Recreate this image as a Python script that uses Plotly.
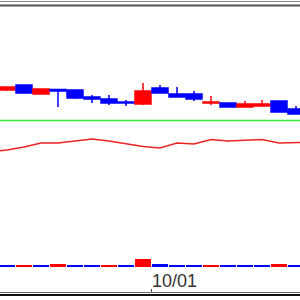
import plotly.graph_objects as go

# ---- data ----
candle_idx = list(range(18))
opens  = [1010, 1015, 1006, 1010.5, 1010, 1003, 1001, 998, 996, 1012, 1006, 1006, 997, 997, 993, 994, 999, 991]
highs  = [1013, 1015, 1011, 1011,   1010, 1005, 1005, 1000, 1017, 1015, 1013, 1009, 1004, 997, 999, 1000, 999, 994]
lows   = [1009, 1006, 1006, 993,    1001, 997,  995,  994,  995,  1007, 1003, 999,  995,  993, 993, 993,  988, 986]
closes = [1013, 1007, 1011, 1009,   1002, 1001, 997,  997,  1009, 1007, 1003, 1001, 998,  993, 996, 996,  988, 986]

line_idx = list(range(-1, 19))
line_vals = [948, 950, 953, 957, 957, 959, 961, 959, 956, 953.5, 952, 957, 956, 960.5, 959, 959.5, 960.5, 957, 957.5, 958]

green_level = 979.5

volumes = [1.7, 1.7, 1.7, 3.2, 1.7, 1.7, 1.7, 1.7, 8.2, 3.0, 1.7, 1.7, 1.7, 1.7, 1.7, 1.7, 3.2, 1.7]
vol_colors = ["blue", "red", "blue", "red", "blue", "blue", "red", "blue", "red",
              "blue", "blue", "blue", "red", "blue", "blue", "blue", "red", "blue"]

date_label = "10/01"
date_pos = 8.5

RED = "#ff0000"
BLUE = "#0000ff"

fig = go.Figure()

fig.add_trace(go.Bar(
    x=candle_idx, y=volumes, width=0.9,
    marker=dict(color=[RED if c == "red" else BLUE for c in vol_colors], line=dict(width=0)),
    yaxis="y2", hoverinfo="skip"))

fig.add_trace(go.Scatter(
    x=line_idx, y=line_vals, mode="lines",
    line=dict(color="#ee2222", width=1.5), hoverinfo="skip"))

fig.add_trace(go.Candlestick(
    x=candle_idx, open=opens, high=highs, low=lows, close=closes,
    increasing=dict(line=dict(color=RED, width=1.5), fillcolor=RED),
    decreasing=dict(line=dict(color=BLUE, width=1.5), fillcolor=BLUE),
    whiskerwidth=0, hoverinfo="skip"))

shapes = [
    dict(type="line", xref="paper", yref="y", x0=0, x1=1, y0=green_level, y1=green_level,
         line=dict(color="#33ee33", width=1.5)),
    # frame lines
    dict(type="line", xref="paper", yref="paper", x0=0, x1=1, y0=1 - 1.5/300, y1=1 - 1.5/300,
         line=dict(color="#888888", width=1)),
    dict(type="line", xref="paper", yref="paper", x0=0, x1=1, y0=1 - 5.5/300, y1=1 - 5.5/300,
         line=dict(color="#555555", width=2)),
    dict(type="line", xref="paper", yref="paper", x0=0, x1=1, y0=1 - 292.5/300, y1=1 - 292.5/300,
         line=dict(color="#666666", width=1)),
    dict(type="line", xref="paper", yref="paper", x0=0, x1=1, y0=1 - 295/300, y1=1 - 295/300,
         line=dict(color="#111111", width=2)),
    dict(type="line", xref="x", yref="paper", x0=date_pos, x1=date_pos, y0=1 - 292/300, y1=1 - 289/300,
         line=dict(color="#444444", width=1)),
]

fig.update_layout(
    width=300, height=300,
    margin=dict(l=0, r=0, t=0, b=0),
    paper_bgcolor="white", plot_bgcolor="white",
    showlegend=False, hovermode=False,
    bargap=0, boxgap=0.06, boxgroupgap=0,
    xaxis=dict(range=[-7/17, 293/17], visible=False, rangeslider=dict(visible=False), fixedrange=True),
    yaxis=dict(range=[800, 1100], visible=False, fixedrange=True),
    yaxis2=dict(range=[-33, 267], visible=False, overlaying="y", fixedrange=True),
    shapes=shapes,
    annotations=[dict(x=date_pos, xref="x", y=1 - 280.5/300, yref="paper", text=date_label,
                      showarrow=False, xanchor="left", yanchor="middle", xshift=-2,
                      font=dict(family="Liberation Sans, Arial", size=18, color="#333333"))],
)

fig.write_html("out.html", config={"displayModeBar": False, "staticPlot": True})
